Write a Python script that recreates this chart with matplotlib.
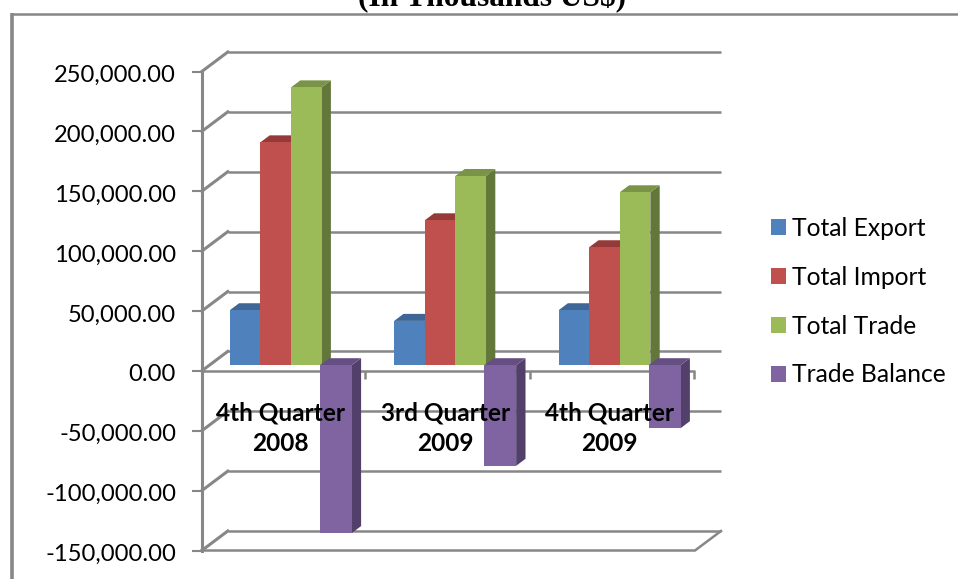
import matplotlib
matplotlib.use("Agg")
import matplotlib.pyplot as plt
from matplotlib.patches import Polygon, Patch
from matplotlib.ticker import FuncFormatter
from matplotlib.transforms import ScaledTranslation

quarters = ["4th Quarter\n2008", "3rd Quarter\n2009", "4th Quarter\n2009"]
series_names = ["Total Export", "Total Import", "Total Trade", "Trade Balance"]
total_export = [45900, 37000, 45900]
total_import = [186100, 121000, 98500]
total_trade = [232000, 158000, 144400]
trade_balance = [-140200, -84000, -52600]
value_ticks = [-150000, -100000, -50000, 0, 50000, 100000, 150000, 200000, 250000]

front_colors = ["#4F81BD", "#C0504D", "#9BBB59", "#8064A2"]
top_colors = ["#3E6796", "#953A38", "#7A9447", "#654F82"]
side_colors = ["#34567E", "#7D302E", "#63773A", "#523F6A"]
GRID = "#878787"

W, H = 958, 579
fig = plt.figure(figsize=(W / 100, H / 100), dpi=100, facecolor="white")
plt.rcParams["font.family"] = ["Lato", "DejaVu Sans"]

# Front plane of the 3-D box; everything else is offset from it in data units
left, right, top, bottom = 201.8, 695.0, 71.5, 550.5
ax = fig.add_axes([left / W, 1 - bottom / H, (right - left) / W, (bottom - top) / H])
ax.set_xlim(0, 3)
ax.set_ylim(-150000, 250000)
ax.patch.set_alpha(0)
for s in ax.spines.values():
    s.set_visible(False)

px_x = 3 / (right - left)
px_y = 400000 / (bottom - top)
depth_x = 26 * px_x
depth_y = 19.5 * px_y
line_w = 1.8

# Back wall gridlines and the slanted lines on the left wall
for v in value_ticks:
    ax.plot([depth_x, 3 + depth_x], [v + depth_y] * 2, color=GRID, lw=line_w, clip_on=False,
            solid_capstyle="butt", zorder=1)
    ax.plot([0, depth_x], [v, v + depth_y], color=GRID, lw=2.2, clip_on=False, zorder=1)

# Floor edges and horizontal axis with its category ticks
floor = -150000
ax.plot([0, 3, 3 + depth_x], [floor, floor, floor + depth_y], color=GRID, lw=line_w,
        clip_on=False, zorder=1, solid_joinstyle="miter")
ax.plot([0, 3], [0, 0], color=GRID, lw=line_w, clip_on=False, zorder=1.5, solid_capstyle="butt")
for c in (1, 2, 3):
    ax.plot([c - 1 * px_x, c - 1 * px_x], [0, -8 * px_y], color=GRID, lw=line_w, clip_on=False,
            zorder=1.5, solid_capstyle="butt")

# Bars: front face, roof and right side, set back a little into the box.
# The balance bar sits slightly over the trade bar and is a touch wider.
bar_w = 30.6 * px_x
near = 0.29
thick = 0.36
all_values = [total_export, total_import, total_trade, trade_balance]
z = 2
for g in range(len(quarters)):
    for s, vals in enumerate(all_values):
        v = vals[g]
        x0 = g + 0.5 + near * depth_x + (s - 2) * bar_w - 0.6 * px_x
        width = bar_w
        if s == 3:
            x0 -= 1.8 * px_x
            width = 32 * px_x
        x1 = x0 + width
        base = near * depth_y
        hi = base + max(v, 0)
        lo = base + min(v, 0)
        dx, dy = thick * depth_x, thick * depth_y
        ax.add_patch(Polygon([(x1, lo), (x1 + dx, lo + dy), (x1 + dx, hi + dy), (x1, hi)],
                             fc=side_colors[s], ec="none", zorder=z, clip_on=False))
        ax.add_patch(Polygon([(x0, hi), (x0 + dx, hi + dy), (x1 + dx, hi + dy), (x1, hi)],
                             fc=top_colors[s], ec="none", zorder=z, clip_on=False))
        ax.bar(x0, hi - lo, width=width, bottom=lo, align="edge", color=front_colors[s],
               zorder=z + 0.1, clip_on=False)
        z += 1

# Value axis line with outward ticks and comma-formatted labels
ax.plot([0, 0], [-150000, 250000], color=GRID, lw=2.2, clip_on=False, zorder=1.5)
ax.set_yticks(value_ticks)
ax.yaxis.set_major_formatter(FuncFormatter(lambda v, _: f"{v:,.2f}"))
ax.tick_params(axis="y", length=7, width=1.5, color=GRID, labelsize=17.1, pad=11.5,
               labelcolor="black")
ax.set_xticks([])
nudge = ScaledTranslation(0, -2 / 100, fig.dpi_scale_trans)
for lab in ax.get_yticklabels():
    lab.set_transform(lab.get_transform() + nudge)

# Category labels overlap the bars, as they sit on the zero line
for g, label in enumerate(quarters):
    ax.text(g + 0.48, -25500, label, ha="center", va="top", fontsize=17.6, fontweight="bold",
            color="black", linespacing=1.42, zorder=100)

handles = [Patch(fc=c, ec="none") for c in front_colors]
fig.legend(handles, series_names, loc="upper left", bbox_to_anchor=(771 / W, 1 - 217 / H),
           frameon=False, fontsize=17.7, handlelength=0.61, handleheight=0.61,
           handletextpad=0.25, labelspacing=1.05, borderaxespad=0, borderpad=0,
           labelcolor="black")

# Chart frame, open on the right and at the bottom
fig.add_artist(plt.Line2D([12.2 / W, 12.2 / W], [0, 1 - 12.5 / H], color=GRID, lw=2.6,
                          solid_capstyle="butt"))
fig.add_artist(plt.Line2D([10.5 / W, 1], [1 - 13.5 / H, 1 - 13.5 / H], color=GRID, lw=1.8,
                          solid_capstyle="butt"))

fig.text(492 / W, 1 - 6 / H, "(In Thousands US$)", ha="center", va="baseline", fontsize=22.6,
         fontweight="bold", family="Liberation Serif", color="black")

fig.savefig("out.png", dpi=100)
